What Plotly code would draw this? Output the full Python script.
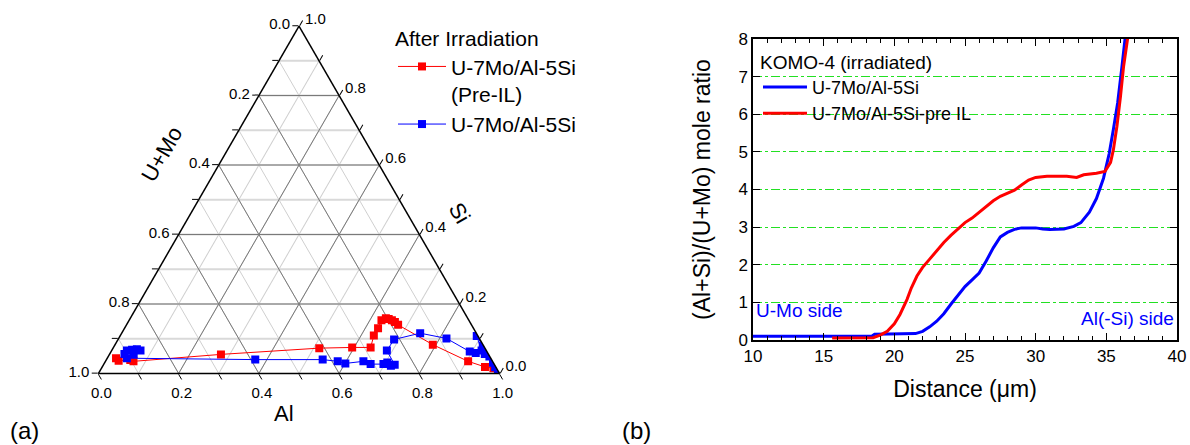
import plotly.graph_objects as go

W, H = 1190, 445
FONT = "Liberation Sans, Arial, sans-serif"

# ---------------- (a) ternary compositions after irradiation ----------------
# mole fractions: Al, Si, U+Mo
PRE_IL_AL = [0.022, 0.032, 0.060, 0.070, 0.278, 0.514, 0.595, 0.641, 0.632, 0.632, 0.629,
             0.637, 0.645, 0.655, 0.665, 0.677, 0.792, 0.904, 0.954, 0.977, 0.991]
PRE_IL_SI = [0.044, 0.037, 0.039, 0.035, 0.055, 0.073, 0.075, 0.075, 0.109, 0.130, 0.153,
             0.159, 0.157, 0.153, 0.148, 0.140, 0.083, 0.035, 0.019, 0.015, 0.009]
PRE_IL_UMO = [0.934, 0.931, 0.901, 0.895, 0.667, 0.413, 0.330, 0.284, 0.259, 0.238, 0.218,
              0.204, 0.198, 0.192, 0.187, 0.183, 0.125, 0.061, 0.027, 0.008, 0.000]

NO_IL_AL = [0.037, 0.038, 0.050, 0.061, 0.072, 0.060, 0.049, 0.371, 0.539, 0.579, 0.601,
            0.643, 0.665, 0.697, 0.704, 0.718, 0.726, 0.686, 0.688, 0.744, 0.817, 0.894,
            0.911, 0.922, 0.889, 0.918, 0.935, 0.950, 0.968, 0.980, 0.993]
NO_IL_SI = [0.056, 0.066, 0.068, 0.070, 0.066, 0.056, 0.044, 0.040, 0.040, 0.035, 0.029,
            0.035, 0.027, 0.027, 0.032, 0.022, 0.025, 0.066, 0.098, 0.116, 0.101, 0.063,
            0.059, 0.066, 0.108, 0.080, 0.056, 0.049, 0.031, 0.018, 0.006]
NO_IL_UMO = [0.907, 0.896, 0.882, 0.869, 0.862, 0.884, 0.907, 0.589, 0.421, 0.386, 0.370,
             0.322, 0.308, 0.276, 0.264, 0.260, 0.249, 0.248, 0.214, 0.140, 0.082, 0.043,
             0.030, 0.012, 0.003, 0.002, 0.009, 0.001, 0.001, 0.002, 0.001]

TERN_TICKS = [0.0, 0.1, 0.2, 0.3, 0.4, 0.5, 0.6, 0.7, 0.8, 0.9, 1.0]
TERN_MAJOR = [0.2, 0.4, 0.6, 0.8]

# ---------------- (b) mole ratio profile across the interaction layer ----------------
NO_IL_DIST = [10.0, 12.0, 14.0, 16.0, 18.4, 18.6, 20.0, 21.5, 22.0, 22.5, 23.0, 23.5, 24.0,
              24.5, 25.0, 25.5, 26.0, 26.5, 27.0, 27.5, 28.0, 28.5, 29.0, 30.0, 30.5, 31.0,
              32.0, 32.7, 33.2, 33.8, 34.3, 34.8, 35.2, 35.5, 35.8, 36.1, 36.35, 36.5]
NO_IL_RATIO = [0.10, 0.10, 0.10, 0.10, 0.10, 0.15, 0.16, 0.17, 0.23, 0.35, 0.50, 0.70, 0.95,
               1.20, 1.42, 1.60, 1.78, 2.10, 2.45, 2.74, 2.86, 2.94, 2.98, 2.98, 2.95, 2.94,
               2.95, 3.02, 3.12, 3.40, 3.76, 4.30, 4.95, 5.60, 6.30, 7.25, 8.00, 8.60]

PRE_IL_DIST = [15.6, 17.0, 18.5, 19.0, 19.5, 20.0, 20.4, 20.9, 21.2, 21.6, 22.0, 22.5, 23.0,
               23.5, 24.0, 24.5, 25.0, 25.5, 26.0, 26.5, 27.0, 27.5, 28.0, 28.5, 29.0, 29.5,
               30.0, 30.8, 32.2, 32.9, 33.4, 34.3, 34.9, 35.3, 35.5, 35.75, 36.0, 36.22,
               36.5, 36.6]
PRE_IL_RATIO = [0.05, 0.05, 0.06, 0.13, 0.23, 0.43, 0.68, 1.08, 1.38, 1.70, 1.93, 2.15, 2.38,
                2.59, 2.78, 2.96, 3.12, 3.24, 3.40, 3.55, 3.70, 3.82, 3.90, 3.98, 4.12, 4.25,
                4.32, 4.35, 4.35, 4.32, 4.39, 4.43, 4.48, 4.72, 5.06, 5.68, 6.47, 7.27,
                8.00, 8.50]


def px_x(p):
    return p / W


def px_y(p):
    return 1 - p / H


def labels(flip):
    out = []
    for i, v in enumerate(TERN_TICKS):
        val = 1 - v if flip else v
        out.append(f"{val:.1f}" if i % 2 == 0 else "")
    return out


fig = go.Figure()

# darker major grid lines of the triangle (Si, U+Mo and Al families)
for v in TERN_MAJOR:
    for a, b, c in (
        ([v, v], [1 - v, 0], [0, 1 - v]),
        ([1 - v, 0], [v, v], [0, 1 - v]),
        ([1 - v, 0], [0, 1 - v], [v, v]),
    ):
        fig.add_trace(go.Scatterternary(
            a=a, b=b, c=c, mode="lines", line=dict(color="#7a7a7a", width=1),
            hoverinfo="skip", showlegend=False))

# a = Si (top), b = U+Mo (bottom left), c = Al (bottom right)
fig.add_trace(go.Scatterternary(
    a=PRE_IL_SI, b=PRE_IL_UMO, c=PRE_IL_AL, mode="lines+markers",
    name="U-7Mo/Al-5Si<br>(Pre-IL)", legend="legend",
    line=dict(color="#ff0000", width=1),
    marker=dict(symbol="square", size=8, color="#ff0000")))
fig.add_trace(go.Scatterternary(
    a=NO_IL_SI, b=NO_IL_UMO, c=NO_IL_AL, mode="lines+markers",
    name="U-7Mo/Al-5Si", legend="legend",
    line=dict(color="#0000ff", width=1),
    marker=dict(symbol="square", size=8, color="#0000ff")))

# right panel curves
fig.add_trace(go.Scatter(
    x=NO_IL_DIST, y=NO_IL_RATIO, mode="lines", name="U-7Mo/Al-5Si",
    legend="legend2", line=dict(color="#0000ff", width=3)))
fig.add_trace(go.Scatter(
    x=PRE_IL_DIST, y=PRE_IL_RATIO, mode="lines", name="U-7Mo/Al-5Si-pre IL",
    legend="legend2", line=dict(color="#ff0000", width=3)))

tern_axis = dict(
    title=dict(text=""), tickmode="array", tickvals=TERN_TICKS,
    ticks="outside", ticklen=6, tickcolor="black", tickwidth=1,
    showline=True, linecolor="black", linewidth=1.5,
    showgrid=True, gridcolor="#cfcfcf", gridwidth=1,
    tickfont=dict(size=15, color="black", family=FONT),
)

fig.update_layout(
    width=W, height=H,
    margin=dict(l=0, r=0, t=0, b=0, pad=0, autoexpand=False),
    paper_bgcolor="white", plot_bgcolor="white",
    font=dict(family=FONT, color="black"),
    ternary=dict(
        sum=1, bgcolor="white",
        domain=dict(x=[px_x(98), px_x(500)], y=[px_y(373.5), px_y(26)]),
        aaxis=dict(tern_axis, ticktext=labels(True), gridcolor="#d9d9d9", gridwidth=2),
        baxis=dict(tern_axis, ticktext=labels(True)),
        caxis=dict(tern_axis, ticktext=labels(True)),
    ),
    legend=dict(
        title=dict(text="After Irradiation", font=dict(size=21)),
        x=px_x(393), y=px_y(19), xanchor="left", yanchor="top",
        font=dict(size=21), bgcolor="rgba(0,0,0,0)", valign="top",
        itemwidth=48,
    ),
    legend2=dict(
        title=dict(text="KOMO-4 (irradiated)", font=dict(size=19)),
        x=px_x(758), y=px_y(44), xanchor="left", yanchor="top",
        font=dict(size=18), bgcolor="rgba(0,0,0,0)", itemwidth=44,
    ),
    xaxis=dict(
        domain=[px_x(753), px_x(1177)], range=[10, 40], tick0=10, dtick=5,
        ticks="inside", ticklen=7, tickwidth=1.2, tickcolor="black",
        minor=dict(dtick=1, ticks="inside", ticklen=4, tickcolor="black"),
        showline=True, mirror="allticks", linecolor="black", linewidth=1.5,
        showgrid=False, zeroline=False, tickfont=dict(size=17),
        title=dict(text="Distance (μm)", font=dict(size=23), standoff=16),
        anchor="y", automargin=False,
    ),
    yaxis=dict(
        domain=[px_y(340), px_y(39)], range=[0, 8], dtick=1,
        ticks="inside", ticklen=7, tickwidth=1.2, tickcolor="black",
        showline=True, mirror="allticks", linecolor="black", linewidth=1.5,
        showgrid=True, gridcolor="#22e022", griddash="dashdot", gridwidth=1.2,
        zeroline=False, tickfont=dict(size=17),
        title=dict(text="(Al+Si)/(U+Mo) mole ratio", font=dict(size=23), standoff=21),
        anchor="x", automargin=False,
    ),
    showlegend=True,
)

annotations = [
    dict(text="U+Mo", x=px_x(162), y=px_y(155), textangle=-60, font=dict(size=22)),
    dict(text="Si", x=px_x(460), y=px_y(213), textangle=60, font=dict(size=22)),
    dict(text="Al", x=px_x(284), y=px_y(413), font=dict(size=22)),
    dict(text="(a)", x=px_x(24), y=px_y(430), font=dict(size=24)),
    dict(text="(b)", x=px_x(636), y=px_y(430), font=dict(size=24)),
]
for a in annotations:
    fig.add_annotation(xref="paper", yref="paper", showarrow=False,
                       xanchor="center", yanchor="middle", **a)

fig.add_annotation(text="U-Mo side", x=10.1, y=0.78, xref="x", yref="y",
                   xanchor="left", yanchor="middle", showarrow=False,
                   font=dict(size=19, color="#0000ff"))
fig.add_annotation(text="Al(-Si) side", x=39.9, y=0.56, xref="x", yref="y",
                   xanchor="right", yanchor="middle", showarrow=False,
                   font=dict(size=19, color="#0000ff"))

fig.write_html("out.html")
